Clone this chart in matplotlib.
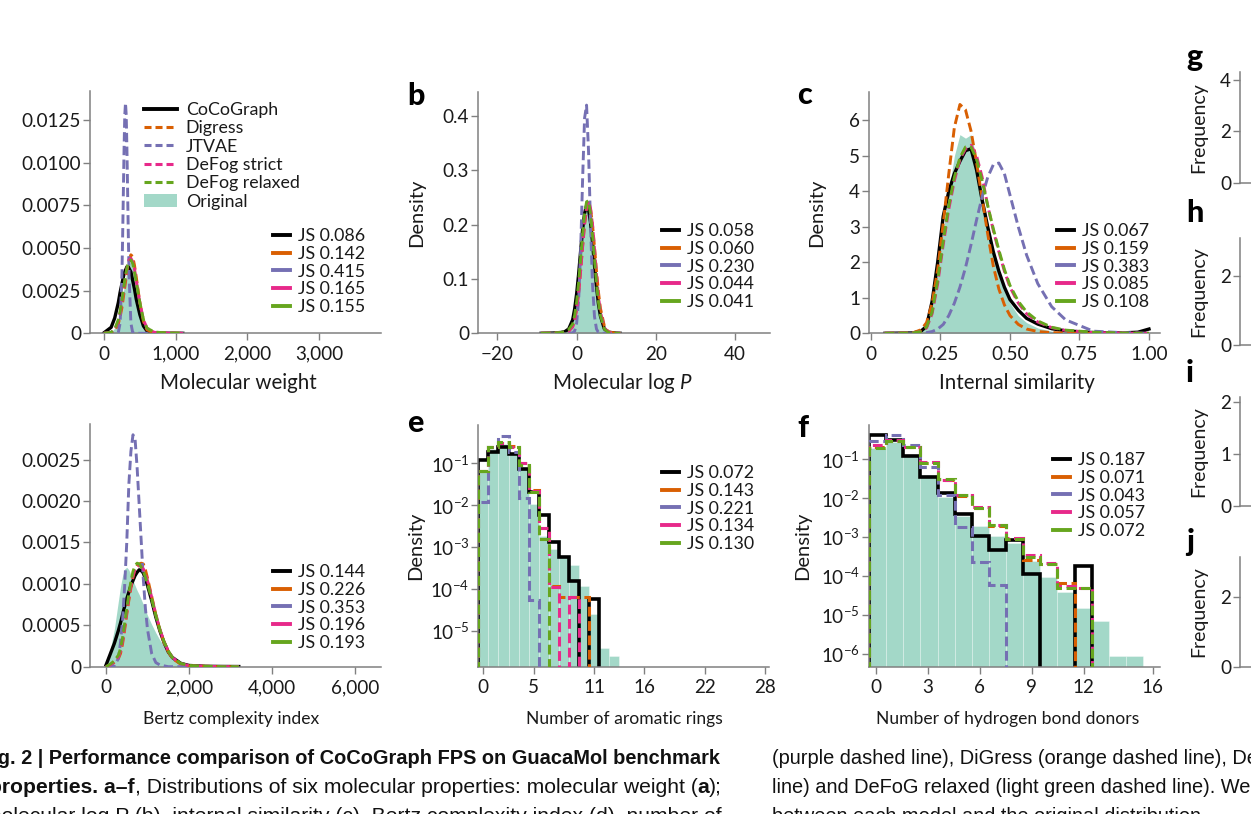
import numpy as np
import matplotlib
matplotlib.use('Agg')
import matplotlib.pyplot as plt
from matplotlib import font_manager
from matplotlib.lines import Line2D
from matplotlib.patches import Patch
from matplotlib.ticker import FixedLocator, FuncFormatter, NullLocator

# ---------------------------------------------------------------- data
models = ['CoCoGraph', 'Digress', 'JTVAE', 'DeFog strict', 'DeFog relaxed']
model_colors = ['#000000', '#d95f02', '#7570b3', '#e7298a', '#66a61e']
original_color = '#1b9e77'

js_mw = [0.086, 0.142, 0.415, 0.165, 0.155]
js_logp = [0.058, 0.060, 0.230, 0.044, 0.041]
js_sim = [0.067, 0.159, 0.383, 0.085, 0.108]
js_bertz = [0.144, 0.226, 0.353, 0.196, 0.193]
js_rings = [0.072, 0.143, 0.221, 0.134, 0.130]
js_donors = [0.187, 0.071, 0.043, 0.057, 0.072]

# (a) molecular weight, density curves
mw_x = [0, 100, 150, 200, 225, 250, 260, 270, 280, 290, 300, 310, 320, 330, 340,
        350, 375, 400, 425, 450, 500, 550, 600, 700, 800, 900, 1000, 1100]
mw_orig = [0, 0.00007, 0.0003, 0.00084, 0.0013, 0.0019, 0.0022, 0.0024, 0.0027, 0.0030,
           0.0032, 0.0034, 0.0036, 0.0038, 0.0040, 0.0041, 0.0042, 0.0040, 0.0036, 0.0030,
           0.0017, 0.0008, 0.0003, 0.00006, 0.00002, 0.00001, 0, 0]
mw_coco = [0.00003, 0.00035, 0.0009, 0.0018, 0.0024, 0.0029, 0.0031, 0.0033, 0.0035, 0.0036,
           0.0037, 0.0038, 0.0039, 0.0039, 0.0039, 0.0038, 0.0036, 0.0031, 0.0026, 0.0020,
           0.0011, 0.00043, 0.00014, 0.00003, 0.00001, 0.000005, 0.000003, 0]
mw_digress = [0, 0.00003, 0.00015, 0.00056, 0.00097, 0.0015, 0.0018, 0.0021, 0.0024, 0.0027,
              0.0030, 0.0033, 0.0036, 0.0039, 0.0041, 0.0043, 0.0046, 0.0045, 0.0040, 0.0033,
              0.0018, 0.0007, 0.0002, 0.00004, 0.00002, 0.00001, 0.000005, 0]
mw_jtvae = [0, 0, 0, 0.00005, 0.0006, 0.0034, 0.0056, 0.0082, 0.0108, 0.0128,
            0.0135, 0.0128, 0.0108, 0.0082, 0.0056, 0.0034, 0.0006, 0.00005, 0, 0,
            0, 0, 0, 0, 0, 0, 0, 0]
mw_strict = [0, 0.00005, 0.0002, 0.0007, 0.0012, 0.0018, 0.0021, 0.0024, 0.0027, 0.0030,
             0.0033, 0.0035, 0.0038, 0.0040, 0.0042, 0.0043, 0.0044, 0.0042, 0.0038, 0.0031,
             0.0018, 0.0008, 0.0003, 0.00006, 0.00002, 0.00001, 0.000005, 0]
mw_relaxed = [0, 0.00006, 0.00025, 0.0008, 0.0013, 0.0019, 0.0022, 0.0025, 0.0028, 0.0031,
              0.0034, 0.0036, 0.0038, 0.0040, 0.0041, 0.0042, 0.0043, 0.0041, 0.0036, 0.0030,
              0.0018, 0.0008, 0.0003, 0.00008, 0.00004, 0.00002, 0.00001, 0.000005]

# (b) molecular log P
logp_x = [-9, -6, -4, -3, -2, -1, -0.5, 0, 0.5, 1, 1.5, 2, 2.5, 3, 3.5, 4, 4.5, 5, 5.5, 6, 7, 8, 10, 11]
logp_orig = [0, 0.0005, 0.002, 0.004, 0.008, 0.02, 0.035, 0.058, 0.092, 0.134, 0.177, 0.215,
             0.238, 0.240, 0.221, 0.186, 0.143, 0.1, 0.063, 0.037, 0.01, 0.003, 0.0005, 0]
logp_coco = [0, 0.0005, 0.0015, 0.003, 0.008, 0.025, 0.045, 0.073, 0.109, 0.151, 0.191, 0.221,
             0.235, 0.228, 0.204, 0.168, 0.125, 0.087, 0.054, 0.032, 0.008, 0.002, 0.0003, 0]
logp_digress = [0, 0.0003, 0.001, 0.002, 0.004, 0.013, 0.025, 0.046, 0.076, 0.115, 0.159, 0.2,
                0.229, 0.24, 0.229, 0.2, 0.159, 0.115, 0.076, 0.046, 0.013, 0.0025, 0.0003, 0]
logp_jtvae = [0, 0, 0, 0, 0, 0.0008, 0.0043, 0.019, 0.061, 0.151, 0.283, 0.396,
              0.42, 0.335, 0.2, 0.09, 0.031, 0.008, 0.0015, 0.0002, 0, 0, 0, 0]
logp_strict = [0, 0.0003, 0.001, 0.002, 0.004, 0.012, 0.024, 0.044, 0.075, 0.116, 0.161, 0.203,
               0.233, 0.243, 0.23, 0.2, 0.156, 0.109, 0.068, 0.039, 0.01, 0.002, 0.0003, 0]
logp_relaxed = [0, 0.0005, 0.0015, 0.003, 0.007, 0.017, 0.033, 0.058, 0.093, 0.137, 0.181, 0.22,
                0.242, 0.244, 0.22, 0.181, 0.137, 0.093, 0.058, 0.033, 0.008, 0.0013, 0.0003, 0]

# (c) internal similarity
sim_x = [0.05, 0.15, 0.18, 0.20, 0.22, 0.24, 0.26, 0.28, 0.30, 0.32, 0.34, 0.36, 0.38, 0.40,
         0.42, 0.44, 0.46, 0.48, 0.50, 0.53, 0.56, 0.60, 0.65, 0.70, 0.80, 0.90, 0.96, 1.00]
sim_orig = [0, 0.02, 0.1, 0.3, 0.9, 1.8, 2.9, 4.0, 5.0, 5.6, 5.5, 5.6, 4.9, 4.0,
            3.1, 2.3, 1.7, 1.2, 0.85, 0.5, 0.3, 0.15, 0.06, 0.03, 0.01, 0, 0, 0]
sim_coco = [0, 0.01, 0.06, 0.2, 0.9, 2.0, 3.3, 4.0, 4.5, 4.85, 5.15, 5.2, 4.6, 3.75,
            3.0, 2.3, 1.75, 1.3, 0.95, 0.65, 0.42, 0.26, 0.13, 0.07, 0.02, 0.01, 0.03, 0.12]
sim_digress = [0, 0.01, 0.1, 0.3, 0.85, 1.8, 3.1, 4.5, 5.8, 6.45, 6.3, 5.7, 4.8, 3.8,
               2.8, 1.9, 1.25, 0.8, 0.5, 0.25, 0.12, 0.05, 0.02, 0.01, 0, 0, 0, 0]
sim_jtvae = [0, 0, 0, 0.02, 0.05, 0.12, 0.25, 0.5, 0.85, 1.3, 1.85, 2.5, 3.2, 3.85,
             4.4, 4.75, 4.8, 4.5, 3.9, 3.0, 2.2, 1.4, 0.75, 0.38, 0.06, 0.02, 0.01, 0]
sim_strict = [0, 0.01, 0.05, 0.15, 0.55, 1.4, 2.5, 3.5, 4.3, 4.9, 5.2, 5.3, 5.0, 4.4,
              3.6, 2.9, 2.3, 1.75, 1.3, 0.85, 0.55, 0.32, 0.16, 0.08, 0.02, 0.01, 0, 0]
sim_relaxed = [0, 0.01, 0.05, 0.18, 0.6, 1.5, 2.6, 3.6, 4.4, 4.95, 5.25, 5.25, 4.9, 4.3,
               3.6, 2.95, 2.35, 1.8, 1.35, 0.9, 0.6, 0.35, 0.17, 0.09, 0.03, 0.01, 0, 0]

# (d) Bertz complexity
bertz_x = [0, 100, 200, 300, 350, 400, 450, 500, 550, 600, 650, 700, 750, 800, 850,
           900, 950, 1000, 1100, 1200, 1300, 1400, 1500, 1600, 1800, 2000, 2400, 2800, 3200]
bertz_orig = [0.00005, 0.0002, 0.00045, 0.0008, 0.00097, 0.0011, 0.00118, 0.0012, 0.00117,
              0.00111, 0.00104, 0.00098, 0.00092, 0.00087, 0.00081, 0.00075, 0.00068, 0.00062,
              0.00051, 0.00041, 0.00032, 0.00025, 0.00019, 0.00014, 0.00007, 0.00003,
              0.000008, 0.000002, 0]
bertz_coco = [0.00002, 0.00015, 0.00028, 0.00044, 0.00053, 0.00063, 0.00073, 0.00082, 0.00090,
              0.00098, 0.00104, 0.00110, 0.00114, 0.00117, 0.00116, 0.00113, 0.00106, 0.00098,
              0.00080, 0.00060, 0.00043, 0.00029, 0.00018, 0.00011, 0.00004, 0.000015,
              0.000005, 0.000003, 0.000002]
bertz_digress = [0, 0.00002, 0.00005, 0.0001, 0.00016, 0.00028, 0.00045, 0.00063, 0.0008,
                 0.00095, 0.00108, 0.00118, 0.00122, 0.00124, 0.00125, 0.00124, 0.00117, 0.00107,
                 0.00085, 0.00063, 0.00044, 0.00029, 0.00018, 0.0001, 0.00003, 0.00001,
                 0.000005, 0, 0]
bertz_jtvae = [0, 0, 0.00001, 0.0001, 0.0003, 0.00057, 0.00098, 0.0015, 0.0022, 0.0026,
               0.0028, 0.00275, 0.0024, 0.00195, 0.0015, 0.00105, 0.0007, 0.00045, 0.00016,
               0.00005, 0.00002, 0.00001, 0, 0, 0, 0, 0, 0, 0]
bertz_strict = [0, 0.00002, 0.00006, 0.00012, 0.00019, 0.00031, 0.00048, 0.00066, 0.00083,
                0.00098, 0.0011, 0.00118, 0.00121, 0.00122, 0.00121, 0.00118, 0.00112, 0.00104,
                0.00084, 0.00063, 0.00045, 0.0003, 0.00019, 0.00011, 0.00004, 0.000012,
                0.000005, 0, 0]
bertz_relaxed = [0, 0.00003, 0.00007, 0.00014, 0.00022, 0.00035, 0.00052, 0.0007, 0.00088,
                 0.00103, 0.00115, 0.00122, 0.00125, 0.00124, 0.0012, 0.00115, 0.00108, 0.001,
                 0.00082, 0.00062, 0.00044, 0.0003, 0.00019, 0.00011, 0.00004, 0.000015,
                 0.000005, 0, 0]

# (e) number of aromatic rings, per-bin density (bins centred on 0..13)
rings_edges = [-0.5, 0.5, 1.5, 2.5, 3.5, 4.5, 5.5, 6.5, 7.5, 8.5, 9.5, 10.5, 11.5, 12.5, 13.5]
rings_orig = [0.065, 0.22, 0.29, 0.18, 0.075, 0.011, 0.0018, 0.0009, 0.0006, 0.00038,
              0.00012, 2.6e-5, 4e-6, 2.5e-6]
rings_coco = [0.12, 0.19, 0.24, 0.17, 0.075, 0.021, 0.0058, 0.00135, 0.00059, 0.00016,
              0, 5.8e-5, 0, 0]
rings_digress = [0.065, 0.24, 0.30, 0.26, 0.1, 0.023, 0.0028, 0.00012, 6.5e-5, 6.5e-5,
                 6.5e-5, 0, 0, 0]
rings_jtvae = [0.012, 0.24, 0.45, 0.19, 0.015, 5.6e-5, 0, 0, 0, 0, 0, 0, 0, 0]
rings_strict = [0.065, 0.24, 0.30, 0.25, 0.1, 0.022, 0.0028, 0.00011, 0, 6.5e-5,
                0, 0, 0, 0]
rings_relaxed = [0.065, 0.25, 0.33, 0.25, 0.09, 0.021, 0.0016, 0, 0, 0, 0, 0, 0, 0]

# (f) number of hydrogen bond donors
donors_edges = [-0.4, 0.59, 1.58, 2.57, 3.56, 4.55, 5.54, 6.53, 7.52, 8.51, 9.5,
                10.49, 11.48, 12.47, 13.46, 14.45, 15.44]
donors_orig = [0.19, 0.28, 0.13, 0.040, 0.011, 0.0035, 0.0019, 0.00105, 0.0007, 0.00024,
               9.3e-5, 4e-5, 1.5e-5, 7e-6, 8.7e-7, 8.7e-7]
donors_coco = [0.42, 0.31, 0.12, 0.036, 0.014, 0.0039, 0.0011, 0.00048, 0.00082, 0.000115,
               0, 0, 0.00018, 0, 0, 0]
donors_digress = [0.21, 0.30, 0.21, 0.08, 0.03, 0.0115, 0.0055, 0.0019, 0.0009, 0.00026,
                  0.0002, 6.6e-5, 0, 0, 0, 0]
donors_jtvae = [0.3, 0.41, 0.23, 0.065, 0.012, 0.0018, 0.00023, 6e-5, 0, 0, 0, 0, 0, 0, 0, 0]
donors_strict = [0.23, 0.31, 0.21, 0.085, 0.03, 0.012, 0.006, 0.002, 0.00095, 0.00035,
                 0.00022, 5.5e-5, 5e-5, 0, 0, 0]
donors_relaxed = [0.19, 0.29, 0.21, 0.08, 0.031, 0.012, 0.0057, 0.002, 0.0009, 0.0003,
                  0.00021, 4.9e-5, 4.9e-5, 0, 0, 0]

# ---------------------------------------------------------------- fonts
installed = {f.name for f in font_manager.fontManager.ttflist}


def pick(*names):
    for n in names:
        if n in installed:
            return n
    return 'DejaVu Sans'


FONT = pick('Lato', 'Open Sans', 'Liberation Sans')
CAPTION_FONT = pick('Liberation Sans', 'Arimo')

plt.rcParams['font.family'] = [FONT, 'DejaVu Sans']
plt.rcParams['mathtext.fontset'] = 'custom'
plt.rcParams['mathtext.rm'] = FONT
plt.rcParams['mathtext.it'] = FONT + ':italic'
plt.rcParams['mathtext.bf'] = FONT + ':bold'

AXIS_GREY = '#808080'
TEXT = '#1a1a1a'
W, H = 1251, 814
FLOOR = 1e-12
TICK_SIZE = 13.6
LEG_SIZE = 12.8

fig = plt.figure(figsize=(W / 100, H / 100), dpi=100)


def add_axes_px(left, top, right, bottom):
    return fig.add_axes([left / W, 1 - bottom / H, (right - left) / W, (bottom - top) / H])


def style_axes(ax):
    ax.spines['top'].set_visible(False)
    ax.spines['right'].set_visible(False)
    for s in ('left', 'bottom'):
        ax.spines[s].set_color(AXIS_GREY)
        ax.spines[s].set_linewidth(1.1)
    ax.tick_params(direction='out', length=5, width=1.0, color=AXIS_GREY,
                   labelsize=TICK_SIZE, labelcolor=TEXT)
    ax.tick_params(axis='y', pad=1.5)
    ax.tick_params(axis='x', pad=4)
    ax.patch.set_alpha(0)


def label_px(ax, xlabel=None, xl_center=None, xl_y=None, xl_size=14.8,
             ylabel=None, yl_x=None, yl_size=14.5):
    # put axis labels at given pixel centres
    bb = ax.get_position()
    x0, x1 = bb.x0 * W, bb.x1 * W
    y_top, y_bot = (1 - bb.y1) * H, (1 - bb.y0) * H
    if xlabel:
        ax.set_xlabel(xlabel, fontsize=xl_size, color=TEXT, va='center')
        ax.xaxis.set_label_coords((xl_center - x0) / (x1 - x0), (y_bot - xl_y) / (y_bot - y_top))
    if ylabel:
        ax.set_ylabel(ylabel, fontsize=yl_size, color=TEXT, va='center')
        ax.yaxis.set_label_coords((yl_x - x0) / (x1 - x0), 0.5)


def draw_kde(ax, x, orig, curves):
    ax.fill_between(x, 0, orig, color=original_color, alpha=0.4, lw=0, zorder=1)
    for i, (y, c) in enumerate(zip(curves, model_colors)):
        if i == 0:
            ax.plot(x, y, color=c, lw=2.4, zorder=2)
        else:
            ax.plot(x, y, color=c, lw=2.1, ls=(0, (3.2, 1.5)), zorder=2 + i)


def draw_hist(ax, edges, orig, curves):
    edges = np.asarray(edges, float)
    centers = (edges[:-1] + edges[1:]) / 2
    ax.bar(centers, orig, width=np.diff(edges), bottom=FLOOR, color=original_color,
           alpha=0.4, edgecolor='white', linewidth=0.6, zorder=1)
    for i, (v, c) in enumerate(zip(curves, model_colors)):
        v = np.asarray(v, float)
        v = np.where(v > 0, v, FLOOR)
        if i == 0:
            ax.stairs(v, edges, baseline=FLOOR, color=c, lw=2.6, zorder=2)
        else:
            ax.stairs(v, edges, baseline=FLOOR, color=c, lw=2.2, ls=(0, (3.2, 1.5)), zorder=2 + i)
    ax.set_yscale('log')
    ax.yaxis.set_minor_locator(NullLocator())


def js_legend(ax, js, x, y):
    handles = [Line2D([], [], color=c, lw=2.8) for c in model_colors]
    leg = ax.legend(handles, [f'JS {v:.3f}' for v in js], loc='upper left',
                    bbox_to_anchor=(x / W, 1 - y / H), bbox_transform=fig.transFigure,
                    frameon=False, fontsize=LEG_SIZE, handlelength=0.95, handletextpad=0.45,
                    labelspacing=0.1, borderpad=0, borderaxespad=0)
    for t in leg.get_texts():
        t.set_color(TEXT)
    return leg


fmt_thousands = FuncFormatter(lambda v, p: f'{v:,.0f}')
fmt_small = FuncFormatter(lambda v, p: '0' if v == 0 else f'{v:.4f}')

# ---------------------------------------------------------------- (a)
ax = add_axes_px(90, 91, 381, 333.3)
style_axes(ax)
draw_kde(ax, mw_x, mw_orig, [mw_coco, mw_digress, mw_jtvae, mw_strict, mw_relaxed])
ax.set_xlim(-195, 3863)
ax.set_ylim(0, 0.0142)
ax.xaxis.set_major_locator(FixedLocator([0, 1000, 2000, 3000]))
ax.xaxis.set_major_formatter(fmt_thousands)
ax.yaxis.set_major_locator(FixedLocator([0, 0.0025, 0.005, 0.0075, 0.01, 0.0125]))
ax.yaxis.set_major_formatter(fmt_small)
label_px(ax, 'Molecular weight', 238, 383)
main_handles = ([Line2D([], [], color=model_colors[0], lw=2.8)] +
                [Line2D([], [], color=c, lw=2.2, ls=(0, (2.3, 1.3))) for c in model_colors[1:]] +
                [Patch(facecolor=original_color, alpha=0.4, lw=0)])
leg_main = ax.legend(main_handles, models + ['Original'], loc='upper left',
                     bbox_to_anchor=(144 / W, 1 - 102 / H), bbox_transform=fig.transFigure,
                     frameon=False, fontsize=LEG_SIZE, handlelength=1.85, handletextpad=0.5,
                     labelspacing=0.13, borderpad=0, borderaxespad=0)
for t in leg_main.get_texts():
    t.set_color(TEXT)
ax.add_artist(leg_main)
js_legend(ax, js_mw, 273, 228)

# ---------------------------------------------------------------- (b)
ax = add_axes_px(478, 91.7, 770, 333.3)
style_axes(ax)
draw_kde(ax, logp_x, logp_orig, [logp_coco, logp_digress, logp_jtvae, logp_strict, logp_relaxed])
ax.set_xlim(-24.9, 48.8)
ax.set_ylim(0, 0.4447)
ax.xaxis.set_major_locator(FixedLocator([-20, 0, 20, 40]))
ax.xaxis.set_major_formatter(FuncFormatter(lambda v, p: f'{v:.0f}'.replace('-', '\u2212')))
ax.yaxis.set_major_locator(FixedLocator([0, 0.1, 0.2, 0.3, 0.4]))
ax.yaxis.set_major_formatter(FuncFormatter(lambda v, p: '0' if v == 0 else f'{v:.1f}'))
label_px(ax, r'Molecular log $\mathit{P}$', 623, 383, ylabel='Density', yl_x=417)
js_legend(ax, js_logp, 662, 223)

# ---------------------------------------------------------------- (c)
ax = add_axes_px(869, 91.7, 1160, 333.3)
style_axes(ax)
draw_kde(ax, sim_x, sim_orig, [sim_coco, sim_digress, sim_jtvae, sim_strict, sim_relaxed])
ax.set_xlim(-0.007, 1.0396)
ax.set_ylim(0, 6.81)
ax.xaxis.set_major_locator(FixedLocator([0, 0.25, 0.5, 0.75, 1.0]))
ax.xaxis.set_major_formatter(FuncFormatter(lambda v, p: '0' if v == 0 else f'{v:.2f}'))
ax.yaxis.set_major_locator(FixedLocator([0, 1, 2, 3, 4, 5, 6]))
ax.yaxis.set_major_formatter(FuncFormatter(lambda v, p: f'{v:.0f}'))
label_px(ax, 'Internal similarity', 1017, 383, ylabel='Density', yl_x=817)
js_legend(ax, js_sim, 1057, 223)

# ---------------------------------------------------------------- (d)
ax = add_axes_px(90, 424, 381, 666.7)
style_axes(ax)
draw_kde(ax, bertz_x, bertz_orig, [bertz_coco, bertz_digress, bertz_jtvae, bertz_strict, bertz_relaxed])
ax.set_xlim(-386, 6627)
ax.set_ylim(0, 0.00293)
ax.xaxis.set_major_locator(FixedLocator([0, 2000, 4000, 6000]))
ax.xaxis.set_major_formatter(fmt_thousands)
ax.yaxis.set_major_locator(FixedLocator([0, 0.0005, 0.001, 0.0015, 0.002, 0.0025]))
ax.yaxis.set_major_formatter(fmt_small)
label_px(ax, 'Bertz complexity index', 231, 719, xl_size=12.6)
js_legend(ax, js_bertz, 273, 564)

# ---------------------------------------------------------------- (e)
ax = add_axes_px(478.3, 425, 769.3, 666.7)
style_axes(ax)
draw_hist(ax, rings_edges, rings_orig,
          [rings_coco, rings_digress, rings_jtvae, rings_strict, rings_relaxed])
ax.set_xlim(-0.5, 28.4)
ax.set_ylim(10 ** -5.85, 10 ** -0.086)
ax.xaxis.set_major_locator(FixedLocator([0, 5, 11, 16, 22, 28]))
ax.yaxis.set_major_locator(FixedLocator([1e-5, 1e-4, 1e-3, 1e-2, 1e-1]))
label_px(ax, 'Number of aromatic rings', 624, 719, xl_size=12.6, ylabel='Density', yl_x=416)
js_legend(ax, js_rings, 662, 465)

# ---------------------------------------------------------------- (f)
ax = add_axes_px(869, 425, 1160, 666.7)
style_axes(ax)
draw_hist(ax, donors_edges, donors_orig,
          [donors_coco, donors_digress, donors_jtvae, donors_strict, donors_relaxed])
ax.set_xlim(-0.4, 16.42)
ax.set_ylim(10 ** -6.33, 10 ** -0.118)
ax.xaxis.set_major_locator(FixedLocator([0, 3, 6, 9, 12, 16]))
ax.yaxis.set_major_locator(FixedLocator([1e-6, 1e-5, 1e-4, 1e-3, 1e-2, 1e-1]))
label_px(ax, 'Number of hydrogen bond donors', 1008, 719, xl_size=12.6, ylabel='Density', yl_x=803)
js_legend(ax, js_donors, 1053, 452)

# ---------------------------------------------------------------- (g-j), cut at the page edge
side_panels = [  # top, bottom, ymax, ticks
    (72, 183, 4.31, [0, 2, 4]),
    (238, 345, 3.1, [0, 2]),
    (397, 506, 2.1, [0, 1, 2]),
    (557, 667, 3.14, [0, 2]),
]
for top, bottom, ymax, ticks in side_panels:
    ax = add_axes_px(1240, top, 1600, bottom)
    style_axes(ax)
    ax.set_xlim(0, 1)
    ax.set_ylim(0, ymax)
    ax.xaxis.set_major_locator(NullLocator())
    ax.yaxis.set_major_locator(FixedLocator(ticks))
    ax.yaxis.set_major_formatter(FuncFormatter(lambda v, p: f'{v:.0f}'))
    label_px(ax, ylabel='Frequency', yl_x=1199, yl_size=14)

# ---------------------------------------------------------------- panel letters
for letter, x, y in [('b', 407, 105), ('c', 797, 104), ('e', 407, 432), ('f', 797, 437),
                     ('g', 1186, 66), ('h', 1186, 222), ('i', 1186, 382), ('j', 1186, 551)]:
    fig.text(x / W, 1 - y / H, letter, fontsize=22, fontweight='black', color='black',
             ha='left', va='baseline')

# ---------------------------------------------------------------- caption (cropped page)
renderer = fig.canvas.get_renderer()
CAP = 14.4
CAP_FAMILY = [CAPTION_FONT, 'DejaVu Sans']


def caption_right(runs, x_right, y_base, size=CAP):
    x = x_right
    for text, weight in reversed(runs):
        t = fig.text(x / W, 1 - y_base / H, text, ha='right', va='baseline', fontsize=size,
                     fontweight=weight, family=CAP_FAMILY, color='#111111')
        x -= t.get_window_extent(renderer).width


caption_right([('Fig. 2 | Performance comparison of CoCoGraph FPS on GuacaMol benchmark', 'bold')],
              720, 764)
caption_right([('properties. a\u2013f', 'bold'),
               (', Distributions of six molecular properties: molecular weight (', 'normal'),
               ('a', 'bold'), (');', 'normal')], 722, 793, size=15.2)
caption_right([('molecular log P (b), internal similarity (c), Bertz complexity index (d), number of',
                'normal')], 722, 822, size=15.2)
for text, y in [('(purple dashed line), DiGress (orange dashed line), DeFoG strict (pink dashed', 764),
                ('line) and DeFoG relaxed (light green dashed line). We report the Jensen\u2013Shannon', 793),
                ('between each model and the original distribution.', 822)]:
    fig.text(772 / W, 1 - y / H, text, ha='left', va='baseline', fontsize=CAP,
             family=CAP_FAMILY, color='#111111')

fig.savefig('out.png', dpi=100)
